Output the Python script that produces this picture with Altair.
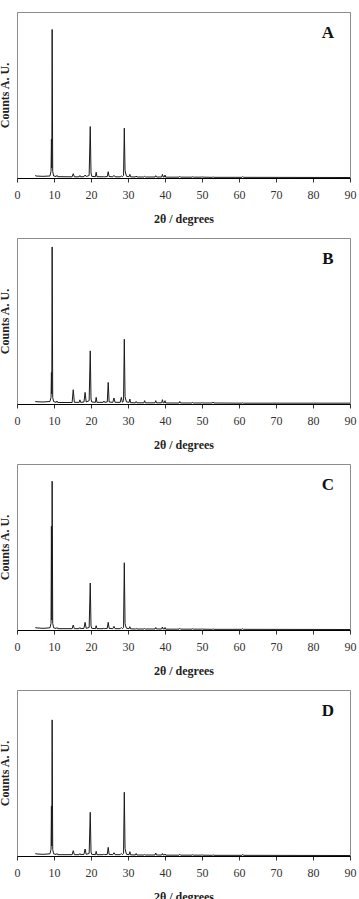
import altair as alt
import pandas as pd

# Shared 2-theta grid (degrees)
two_theta = [
    5.0, 5.05, 7.0, 8.9, 9.2, 9.3, 9.4, 9.5, 9.65, 9.9,
    10.6, 10.8, 11.0, 14.9, 15.2, 15.5, 16.8, 17.0, 17.2, 18.1,
    18.4, 18.7, 19.5, 19.8, 20.0, 20.2, 21.2, 21.4, 21.6, 23.3,
    23.5, 23.7, 24.4, 24.65, 24.9, 25.9, 26.2, 26.5, 27.9, 28.2,
    28.5, 28.8, 29.0, 29.2, 29.35, 29.6, 30.3, 30.5, 30.7, 32.0,
    32.2, 32.4, 34.3, 34.5, 34.7, 37.3, 37.5, 37.7, 39.1, 39.3,
    39.5, 39.8, 40.0, 40.2, 43.8, 44.0, 44.2, 47.3, 47.5, 47.7,
    49.8, 50.0, 50.2, 52.8, 53.0, 53.2, 60.8, 61.0, 61.2, 90.0,
]

intensity_A = [
    1.6, 1.2, 1.0, 1.2, 4.0, 23.4, 6.0, 89.5, 4.0, 1.2,
    0.9, 1.6, 0.8, 0.7, 2.6, 0.7, 0.7, 1.5, 0.7, 0.8,
    1.8, 0.9, 1.5, 31.0, 3.0, 1.0, 0.8, 3.5, 0.8, 0.7,
    1.0, 0.7, 0.9, 3.8, 0.9, 0.7, 1.6, 0.7, 0.7, 1.2,
    0.8, 1.5, 30.0, 4.6, 3.0, 1.0, 0.8, 2.2, 0.7, 0.6,
    1.2, 0.6, 0.6, 1.0, 0.6, 0.6, 1.4, 0.6, 0.6, 2.2,
    0.6, 0.6, 1.8, 0.5, 0.5, 1.0, 0.5, 0.5, 0.8, 0.5,
    0.5, 0.9, 0.5, 0.4, 0.8, 0.4, 0.4, 0.9, 0.4, 0.3,
]

intensity_B = [
    1.8, 1.4, 1.2, 1.5, 4.0, 19.0, 6.0, 94.6, 4.0, 1.4,
    1.0, 1.8, 0.9, 0.9, 8.6, 1.0, 1.0, 2.5, 1.0, 1.2,
    7.0, 1.2, 2.0, 32.0, 3.0, 1.2, 1.0, 4.0, 1.0, 1.0,
    1.8, 1.0, 1.2, 13.0, 1.2, 1.0, 3.6, 1.0, 1.0, 4.0,
    1.0, 2.0, 39.0, 4.5, 3.0, 1.2, 1.0, 3.0, 0.8, 0.7,
    1.5, 0.7, 0.7, 2.0, 0.7, 0.7, 2.0, 0.7, 0.7, 2.6,
    0.7, 0.7, 2.0, 0.6, 0.6, 1.5, 0.6, 0.6, 1.0, 0.6,
    0.6, 1.0, 0.6, 0.6, 1.2, 0.6, 0.5, 0.7, 0.5, 0.5,
]

intensity_C = [
    1.6, 1.3, 1.0, 1.3, 4.0, 62.5, 6.0, 89.6, 4.0, 1.3,
    0.9, 1.5, 0.8, 0.8, 3.0, 0.8, 0.8, 1.5, 0.8, 1.0,
    4.6, 1.0, 1.5, 28.3, 2.5, 1.0, 0.8, 2.6, 0.8, 0.8,
    1.2, 0.8, 1.0, 4.6, 1.0, 0.8, 2.2, 0.8, 0.8, 1.5,
    0.8, 1.5, 40.5, 4.0, 2.5, 1.0, 0.8, 2.0, 0.7, 0.6,
    1.0, 0.6, 0.6, 0.9, 0.6, 0.6, 1.5, 0.6, 0.6, 1.8,
    0.6, 0.6, 1.5, 0.5, 0.5, 1.0, 0.5, 0.5, 0.8, 0.5,
    0.5, 0.8, 0.5, 0.4, 0.8, 0.4, 0.4, 0.8, 0.4, 0.3,
]

intensity_D = [
    1.6, 1.3, 1.0, 1.3, 4.0, 30.0, 6.0, 82.0, 4.0, 1.3,
    0.9, 1.5, 0.8, 0.8, 3.2, 0.8, 0.8, 1.5, 0.8, 1.0,
    4.2, 1.0, 1.5, 26.3, 2.5, 1.0, 0.8, 2.8, 0.8, 0.8,
    1.2, 0.8, 1.0, 5.2, 1.0, 0.8, 2.0, 0.8, 0.8, 1.5,
    0.8, 1.5, 38.4, 4.5, 3.0, 1.0, 0.8, 2.6, 0.7, 0.6,
    1.5, 0.6, 0.6, 0.9, 0.6, 0.6, 1.8, 0.6, 0.6, 1.5,
    0.6, 0.6, 1.2, 0.5, 0.5, 1.0, 0.5, 0.5, 0.8, 0.5,
    0.5, 0.8, 0.5, 0.4, 0.8, 0.4, 0.4, 1.0, 0.4, 0.3,
]

panel_letters = ["A", "B", "C", "D"]
panel_values = [intensity_A, intensity_B, intensity_C, intensity_D]
x_ticks = [0, 10, 20, 30, 40, 50, 60, 70, 80, 90]

SERIF = "Liberation Serif"


def make_panel(letter, values):
    df = pd.DataFrame({"two_theta": two_theta, "counts": values})
    line = alt.Chart(df).mark_line(color="#1a1a1a", strokeWidth=1).encode(
        x=alt.X(
            "two_theta:Q",
            scale=alt.Scale(domain=[0, 90], nice=False),
            axis=alt.Axis(values=x_ticks, title="2θ / degrees", grid=False,
                          labelFlush=False, format="d", titlePadding=13),
        ),
        y=alt.Y(
            "counts:Q",
            scale=alt.Scale(domain=[0, 100], nice=False),
            axis=alt.Axis(title="Counts A. U.", labels=False, ticks=False,
                          domain=False, grid=False, titlePadding=6),
        ),
    )
    tag = alt.Chart(pd.DataFrame({"letter": [letter]})).mark_text(
        font=SERIF, fontSize=17, fontWeight="bold", color="#111111"
    ).encode(x=alt.value(311), y=alt.value(21), text="letter:N")
    return alt.layer(line, tag).properties(width=333, height=166)


chart = (
    alt.vconcat(*[make_panel(l, v) for l, v in zip(panel_letters, panel_values)], spacing=12)
    .properties(padding={"left": -3, "top": 11, "right": 0, "bottom": 0}, background="white")
    .configure_view(stroke="#8c8c8c", strokeWidth=1)
    .configure_axis(
        labelFont=SERIF, labelFontSize=12, labelColor="#333333",
        titleFont=SERIF, titleFontSize=12, titleFontWeight="bold", titleColor="#222222",
        domainColor="#000000", tickColor="#333333", tickSize=4,
        labelPadding=7,
    )
)

chart.save("out.html", embed_options={"renderer": "svg", "actions": False})
